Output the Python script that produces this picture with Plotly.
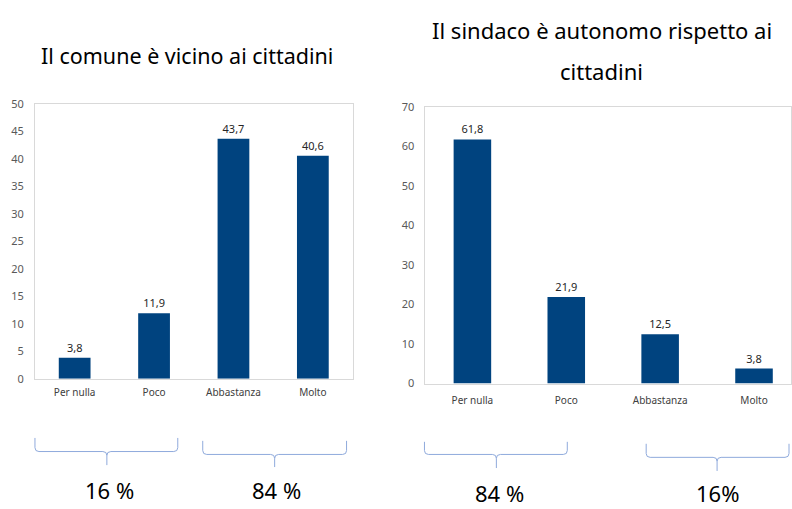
import plotly.graph_objects as go

# dati
categorie = ["Per nulla", "Poco", "Abbastanza", "Molto"]
vicino = [3.8, 11.9, 43.7, 40.6]
autonomo = [61.8, 21.9, 12.5, 3.8]

titolo_sx = "Il comune è vicino ai cittadini"
titolo_dx = ["Il sindaco è autonomo rispetto ai", "cittadini"]
gruppi = ["16 %", "84 %", "84 %", "16%"]

W, H = 792, 509
BLU = "#00437f"
FONT = "Noto Sans"


def px(x):
    return x / W


def py(y):
    return 1 - y / H


def fmt(v):
    return f"{v:.1f}".replace(".", ",")


fig = go.Figure()

fig.add_trace(go.Bar(
    x=categorie, y=vicino, xaxis="x", yaxis="y", width=0.4,
    marker=dict(color=BLU, line=dict(width=0)),
    text=[fmt(v) for v in vicino], textposition="outside", cliponaxis=False,
    textfont=dict(size=11, color="#262626", family=FONT),
))
fig.add_trace(go.Bar(
    x=categorie, y=autonomo, xaxis="x2", yaxis="y2", width=0.4,
    marker=dict(color=BLU, line=dict(width=0)),
    text=[fmt(v) for v in autonomo], textposition="outside", cliponaxis=False,
    textfont=dict(size=11, color="#262626", family=FONT),
))

asse_x = dict(type="category", showgrid=False, ticks="", showline=True,
              linecolor="#d9d9d9", linewidth=1, mirror=True,
              tickfont=dict(size=10, color="#404040", family=FONT))
asse_y = dict(showgrid=False, zeroline=False, ticks="", showline=True,
              linecolor="#d9d9d9", linewidth=1, mirror=True, ticklabelstandoff=8,
              tickfont=dict(size=11, color="#595959", family=FONT))

fig.update_layout(
    width=W, height=H, margin=dict(l=0, r=0, t=0, b=0),
    paper_bgcolor="white", plot_bgcolor="white", showlegend=False,
    font=dict(family=FONT),
    xaxis=dict(asse_x, domain=[px(35), px(353)], anchor="y", range=[-0.5, 3.5],
               ticklabelstandoff=4),
    yaxis=dict(asse_y, domain=[py(382), py(99)], anchor="x", range=[0, 50], dtick=5),
    xaxis2=dict(asse_x, domain=[px(426), 1.0], anchor="y2", range=[-0.5, 3.394],
                ticklabelstandoff=7),
    yaxis2=dict(asse_y, domain=[py(387), py(102)], anchor="x2", range=[0, 70], dtick=10),
)

# titoli
fig.add_annotation(text=titolo_sx, x=px(187), y=py(49), xref="paper", yref="paper",
                   xanchor="center", yanchor="middle", showarrow=False,
                   font=dict(size=21.5, color="black", family=FONT))
for riga, xc, yc in zip(titolo_dx, [603, 602], [23, 65]):
    fig.add_annotation(text=riga, x=px(xc), y=py(yc), xref="paper", yref="paper",
                       xanchor="center", yanchor="middle", showarrow=False,
                       font=dict(size=22, color="black", family=FONT))

# parentesi graffe sotto i grafici
parentesi = [(35, 178, 107, 443, 457, 471), (203, 347, 275, 446, 460, 473),
             (425, 568, 497, 447, 460, 474), (647, 790, 718, 449, 463, 477)]
for x0, x1, xm, yt, yh, yb in parentesi:
    r = 4
    path = (f"M {px(x0)},{py(yt)} L {px(x0)},{py(yh - r)} Q {px(x0)},{py(yh)} {px(x0 + r)},{py(yh)} "
            f"L {px(xm - r)},{py(yh)} Q {px(xm)},{py(yh)} {px(xm)},{py(yh + r)} L {px(xm)},{py(yb)} "
            f"M {px(xm)},{py(yh + r)} Q {px(xm)},{py(yh)} {px(xm + r)},{py(yh)} "
            f"L {px(x1 - r)},{py(yh)} Q {px(x1)},{py(yh)} {px(x1)},{py(yh - r)} L {px(x1)},{py(yt)}")
    fig.add_shape(type="path", path=path, xref="paper", yref="paper",
                  line=dict(color="#8faadc", width=1))

for testo, xm, yc in zip(gruppi, [110, 277, 500, 718], [497, 497, 500, 500]):
    fig.add_annotation(text=testo, x=px(xm), y=py(yc), xref="paper", yref="paper",
                       xanchor="center", yanchor="middle", showarrow=False,
                       font=dict(size=22, color="black", family=FONT))

# niente margine della pagina, così la figura occupa esattamente la finestra
fig.write_html("out.html", post_script="document.body.style.margin='0';",
               config={"displayModeBar": False})
